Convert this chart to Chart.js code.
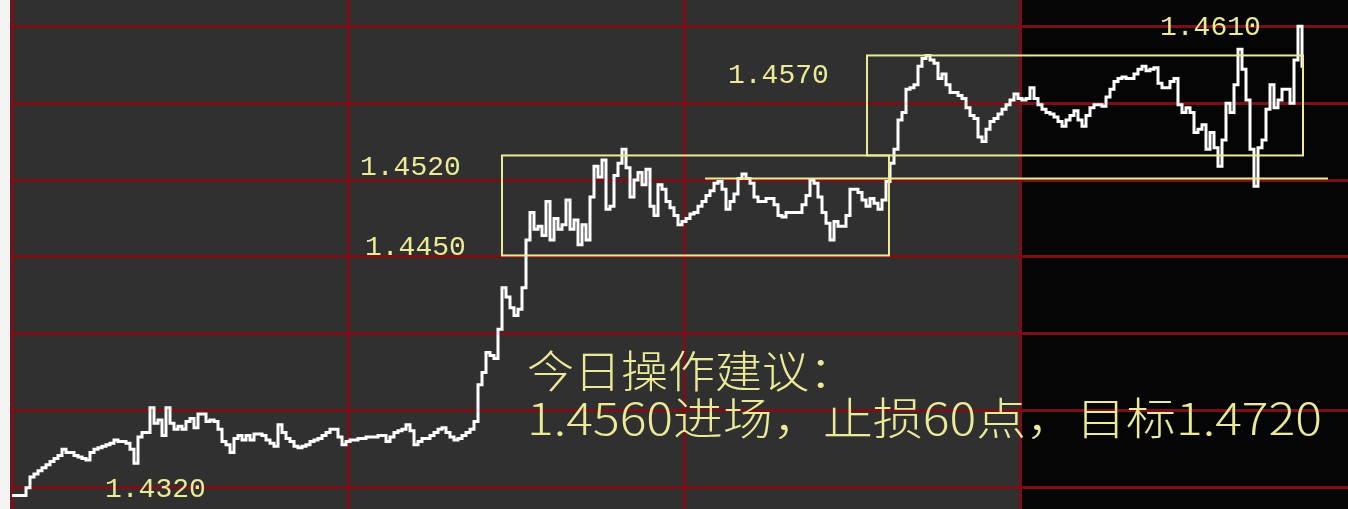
<!DOCTYPE html>
<html lang="zh-CN">
<head>
<meta charset="utf-8">
<title>走势图</title>
<script src="https://cdn.jsdelivr.net/npm/chart.js@4/dist/chart.umd.min.js"></script>
<style>
  html, body { margin: 0; padding: 0; background: #f4f4f4; overflow: hidden; }
  #wrap { position: absolute; left: 10px; top: 0; width: 1338px; height: 509px; }
</style>
</head>
<body>
<div id="wrap"><canvas id="chart-line"></canvas></div>
<script>
// 分时价格 (每个点一个时间步)
const prices = [
  1.4295, 1.4295, 1.4295, 1.4295, 1.4300, 1.4307, 1.4309, 1.4311, 1.4313, 1.4315, 1.4317, 1.4319,
  1.4321, 1.4325, 1.4323, 1.4323, 1.4321, 1.4320, 1.4319, 1.4318, 1.4323, 1.4325, 1.4326, 1.4327,
  1.4328, 1.4329, 1.4331, 1.4330, 1.4330, 1.4329, 1.4325, 1.4316, 1.4333, 1.4336, 1.4336, 1.4352,
  1.4342, 1.4344, 1.4334, 1.4352, 1.4342, 1.4338, 1.4340, 1.4338, 1.4343, 1.4345, 1.4339, 1.4348,
  1.4348, 1.4343, 1.4344, 1.4343, 1.4338, 1.4330, 1.4328, 1.4323, 1.4332, 1.4334, 1.4331, 1.4334,
  1.4331, 1.4335, 1.4335, 1.4334, 1.4331, 1.4329, 1.4327, 1.4341, 1.4336, 1.4332, 1.4330, 1.4327,
  1.4326, 1.4327, 1.4328, 1.4330, 1.4331, 1.4332, 1.4334, 1.4336, 1.4338, 1.4338, 1.4333, 1.4328,
  1.4330, 1.4331, 1.4331, 1.4332, 1.4332, 1.4333, 1.4333, 1.4333, 1.4334, 1.4334, 1.4330, 1.4333,
  1.4336, 1.4337, 1.4338, 1.4341, 1.4337, 1.4328, 1.4330, 1.4332, 1.4332, 1.4334, 1.4336, 1.4338,
  1.4339, 1.4336, 1.4333, 1.4331, 1.4332, 1.4334, 1.4336, 1.4338, 1.4343, 1.4367, 1.4375, 1.4388,
  1.4386, 1.4384, 1.4403, 1.4430, 1.4424, 1.4417, 1.4412, 1.4416, 1.4430, 1.4461, 1.4479, 1.4468,
  1.4470, 1.4464, 1.4486, 1.4461, 1.4475, 1.4468, 1.4471, 1.4487, 1.4468, 1.4474, 1.4458, 1.4471,
  1.4461, 1.4489, 1.4509, 1.4502, 1.4513, 1.4481, 1.4483, 1.4503, 1.4511, 1.4520, 1.4508, 1.4489,
  1.4500, 1.4505, 1.4497, 1.4507, 1.4483, 1.4477, 1.4497, 1.4494, 1.4486, 1.4482, 1.4477, 1.4471,
  1.4473, 1.4475, 1.4478, 1.4479, 1.4483, 1.4486, 1.4490, 1.4493, 1.4498, 1.4499, 1.4494, 1.4481,
  1.4486, 1.4491, 1.4501, 1.4504, 1.4501, 1.4498, 1.4489, 1.4486, 1.4486, 1.4488, 1.4488, 1.4484,
  1.4477, 1.4476, 1.4479, 1.4479, 1.4479, 1.4479, 1.4484, 1.4490, 1.4500, 1.4498, 1.4489, 1.4479,
  1.4472, 1.4461, 1.4473, 1.4470, 1.4470, 1.4477, 1.4494, 1.4494, 1.4492, 1.4487, 1.4483, 1.4488,
  1.4485, 1.4481, 1.4487, 1.4499, 1.4511, 1.4520, 1.4539, 1.4544, 1.4559, 1.4560, 1.4562, 1.4574,
  1.4579, 1.4581, 1.4578, 1.4576, 1.4566, 1.4569, 1.4562, 1.4557, 1.4557, 1.4555, 1.4553, 1.4547,
  1.4542, 1.4540, 1.4528, 1.4525, 1.4533, 1.4538, 1.4540, 1.4543, 1.4546, 1.4549, 1.4552, 1.4556,
  1.4553, 1.4552, 1.4553, 1.4560, 1.4553, 1.4549, 1.4546, 1.4544, 1.4543, 1.4541, 1.4538, 1.4535,
  1.4539, 1.4542, 1.4545, 1.4539, 1.4535, 1.4542, 1.4547, 1.4549, 1.4549, 1.4548, 1.4554, 1.4559,
  1.4564, 1.4566, 1.4567, 1.4566, 1.4566, 1.4569, 1.4572, 1.4574, 1.4571, 1.4572, 1.4573, 1.4563,
  1.4560, 1.4560, 1.4564, 1.4566, 1.4549, 1.4544, 1.4547, 1.4544, 1.4531, 1.4533, 1.4536, 1.4520,
  1.4531, 1.4521, 1.4509, 1.4526, 1.4550, 1.4544, 1.4562, 1.4585, 1.4572, 1.4552, 1.4520, 1.4496,
  1.4521, 1.4526, 1.4546, 1.4562, 1.4547, 1.4552, 1.4559, 1.4559, 1.4550, 1.4578, 1.4600, 1.4574
];

// 网格: 价格线和时间分割线
const gridPrices = [1.4300, 1.4350, 1.4400, 1.4450, 1.4500, 1.4550, 1.4600];
const gridSteps = [0, 84, 168, 252];
const nightStart = 252; // 之后为黑色背景

// 震荡区间 (两个方框) 和支撑线
const boxFrom = [122.5, 213.75];
const boxTo = [219.25, 322.75];
const boxLow = [1.4451, 1.4516];
const boxHigh = [1.4516, 1.4581];
const supportLevel = 1.4501;
const supportFrom = 173.25;
const supportTo = 329;

// 价格标注
const priceLabels = ['1.4520', '1.4450', '1.4570', '1.4610', '1.4320'];
const adviceLines = ['今日操作建议：', '1.4560进场，止损60点，目标1.4720'];

const YELLOW = '#eaea98';
const RED_GRID = '#7a1015';

// 拉伸文字到指定宽度
function fillTextWidth(ctx, text, left, right, py) {
  const w = ctx.measureText(text).width;
  ctx.save();
  ctx.translate(left, py);
  ctx.scale((right - left) / w, 1);
  ctx.fillText(text, 0, 0);
  ctx.restore();
}

// 标注绘制 (背景、方框、文字)
const marksPlugin = {
  id: 'marks',
  beforeDraw(chart, args, opts) {
    const { ctx, chartArea: a, scales: { x } } = chart;
    const split = x.getPixelForValue(nightStart);
    ctx.save();
    ctx.fillStyle = '#303030';
    ctx.fillRect(a.left, a.top, split - a.left, a.bottom - a.top);
    ctx.fillStyle = '#050505';
    ctx.fillRect(split, a.top, a.right - split, a.bottom - a.top);
    ctx.restore();
  },
  afterDatasetsDraw(chart, args, opts) {
    const { ctx, scales: { x, y } } = chart;
    ctx.save();
    ctx.strokeStyle = YELLOW;
    ctx.lineWidth = 2;
    for (let i = 0; i < boxFrom.length; i++) {
      const x0 = x.getPixelForValue(boxFrom[i]);
      const x1 = x.getPixelForValue(boxTo[i]);
      const y0 = y.getPixelForValue(boxHigh[i]);
      const y1 = y.getPixelForValue(boxLow[i]);
      ctx.strokeRect(x0, y0, x1 - x0, y1 - y0);
    }
    const sy = y.getPixelForValue(supportLevel);
    ctx.beginPath();
    ctx.moveTo(x.getPixelForValue(supportFrom), sy);
    ctx.lineTo(x.getPixelForValue(supportTo), sy);
    ctx.stroke();

    // 价格数字
    ctx.fillStyle = YELLOW;
    ctx.textBaseline = 'middle';
    ctx.font = '28px "Liberation Mono", "DejaVu Sans Mono", monospace';
    priceLabels.forEach((t, i) => {
      ctx.fillText(t, x.getPixelForValue(opts.labelAt[i]), y.getPixelForValue(opts.labelPrice[i]));
    });

    // 操作建议
    ctx.font = '300 44px "Noto Sans CJK SC", sans-serif';
    const left = x.getPixelForValue(opts.adviceAt);
    adviceLines.forEach((t, i) => {
      const py = y.getPixelForValue(opts.advicePrice[i]);
      fillTextWidth(ctx, t, left, x.getPixelForValue(opts.adviceEnd[i]), py);
    });
    ctx.restore();
  }
};

function renderChart() {
  const ctx = document.getElementById('chart-line').getContext('2d');
  return new Chart(ctx, {
    type: 'line',
    data: {
      datasets: [{
        data: prices.map((p, i) => ({ x: i, y: p })),
        borderColor: '#ffffff',
        borderWidth: 3,
        pointRadius: 0,
        stepped: 'middle',
        fill: false
      }]
    },
    plugins: [marksPlugin],
    options: {
      responsive: true,
      maintainAspectRatio: false,
      animation: false,
      layout: { padding: 0 },
      plugins: {
        legend: { display: false },
        tooltip: { enabled: false },
        marks: {
          labelAt: [87, 88.25, 179, 287, 23.25],
          labelPrice: [1.4508, 1.4456, 1.4568, 1.4599, 1.4299],
          adviceAt: 128.75,
          adviceEnd: [211, 327.5],
          advicePrice: [1.4376, 1.4345]
        }
      },
      scales: {
        x: {
          type: 'linear',
          min: -0.5,
          max: 334,
          afterBuildTicks: axis => { axis.ticks = gridSteps.map(v => ({ value: v })); },
          ticks: { display: false },
          grid: { color: RED_GRID, lineWidth: 3, drawTicks: false },
          border: { display: false }
        },
        y: {
          type: 'linear',
          min: 1.42862,
          max: 1.461705,
          afterBuildTicks: axis => { axis.ticks = gridPrices.map(v => ({ value: v })); },
          ticks: { display: false },
          grid: { color: RED_GRID, lineWidth: 3, drawTicks: false },
          border: { display: false }
        }
      }
    }
  });
}

renderChart();
</script>
</body>
</html>
